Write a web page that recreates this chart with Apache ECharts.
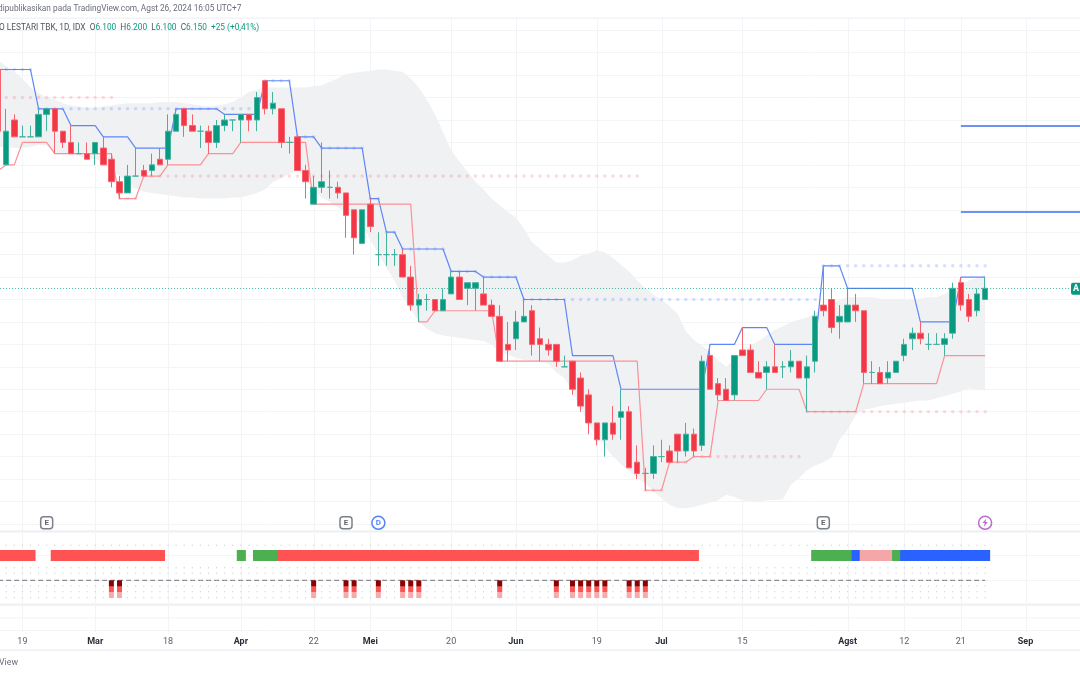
<!DOCTYPE html>
<html>
<head>
<meta charset="utf-8">
<style>html,body{margin:0;padding:0;background:#fff;overflow:hidden}#c{width:1080px;height:675px}</style>
<script src="https://cdn.jsdelivr.net/npm/echarts@6/dist/echarts.min.js"></script>
</head>
<body>
<div id="c"></div>
<script>
const dates = ['02-13','02-15','02-16','02-19','02-20','02-21','02-22','02-23','02-26','02-27','02-28','02-29','03-01','03-04','03-05','03-06','03-07','03-08','03-13','03-14','03-15','03-18','03-19','03-20','03-21','03-22','03-25','03-26','03-27','03-28','04-01','04-02','04-03','04-04','04-05','04-16','04-17','04-18','04-19','04-22','04-23','04-24','04-25','04-26','04-29','04-30','05-02','05-03','05-06','05-07','05-08','05-13','05-14','05-15','05-16','05-17','05-20','05-21','05-22','05-27','05-28','05-29','05-30','05-31','06-03','06-04','06-05','06-06','06-07','06-10','06-11','06-12','06-13','06-14','06-19','06-20','06-21','06-24','06-25','06-26','06-27','06-28','07-01','07-02','07-03','07-04','07-05','07-08','07-09','07-10','07-11','07-12','07-15','07-16','07-17','07-18','07-19','07-22','07-23','07-24','07-25','07-26','07-29','07-30','07-31','08-01','08-02','08-05','08-06','08-07','08-08','08-09','08-12','08-13','08-14','08-15','08-16','08-19','08-20','08-21','08-22','08-23','08-26','08-27','08-28','08-29','08-30','09-02','09-03','09-04','09-05','09-06','09-09','09-10','09-11'];
const tickLabels = {'02-19':'19','03-01':'Mar','03-18':'18','04-01':'Apr','04-22':'22','05-02':'Mei','05-20':'20','06-03':'Jun','06-19':'19','07-01':'Jul','07-15':'15','08-01':'Agst','08-12':'12','08-21':'21','09-02':'Sep'};
const monthTicks = ['Mar','Apr','Mei','Jun','Jul','Agst','Sep'];

const opens  = [7125,6700,6900,6825,6825,6825,6925,6950,6850,6800,6750,6750,6750,6775,6725,6625,6575,6650,6675,6675,6725,6725,6850,6950,6875,6850,6850,6800,6875,6900,6900,6925,6900,7075,6950,6950,6800,6825,6675,6525,6600,6600,6600,6575,6500,6350,6525,6300,6300,6300,6300,6200,6075,6100,6100,6050,6125,6200,6150,6150,6125,6075,6025,5900,5925,6000,6050,5925,5900,5900,5800,5825,5750,5675,5550,5475,5550,5575,5600,5375,5325,5325,5400,5425,5500,5425,5500,5450,5850,5725,5700,5675,5875,5875,5775,5775,5800,5800,5800,5825,5750,5825,6075,6100,6000,6000,6075,6050,5775,5775,5750,5775,5850,5925,5950,5900,5900,5900,5950,6175,6100,6050,6100];
const closes = [6850,6850,6825,6825,6825,6925,6950,6850,6800,6750,6750,6725,6800,6700,6625,6575,6650,6650,6650,6700,6700,6850,6925,6875,6850,6850,6800,6875,6900,6900,6925,6900,7000,6950,6975,6800,6800,6675,6625,6600,6625,6600,6575,6475,6375,6500,6425,6300,6300,6300,6200,6075,6100,6100,6050,6100,6200,6100,6175,6175,6075,6025,5825,5875,6000,6025,5900,5900,5875,5825,5800,5700,5625,5550,5475,5550,5500,5600,5350,5325,5325,5400,5400,5375,5425,5500,5425,5825,5700,5675,5650,5850,5850,5775,5750,5800,5775,5800,5825,5750,5800,6025,6050,5975,6025,6075,6050,5775,5775,5725,5775,5825,5900,5950,5925,5900,5900,5925,6150,6075,6025,6125,6150];
const lows   = [6850,6700,6825,6825,6825,6825,6850,6750,6775,6750,6750,6725,6700,6700,6600,6550,6575,6650,6650,6650,6700,6700,6850,6825,6850,6775,6750,6775,6850,6850,6800,6850,6850,6925,6925,6775,6750,6675,6550,6525,6575,6550,6550,6375,6300,6350,6400,6250,6250,6250,6200,6050,6000,6050,6050,6050,6125,6100,6075,6050,6075,6025,5825,5825,5875,6000,5850,5825,5850,5800,5800,5675,5600,5500,5450,5400,5475,5475,5350,5300,5250,5300,5375,5375,5375,5400,5400,5425,5700,5650,5650,5650,5850,5775,5750,5700,5775,5750,5775,5750,5600,5775,6025,5950,5925,6000,6000,5725,5725,5725,5725,5775,5825,5875,5900,5875,5900,5850,5925,6050,6000,6025,6100];
const highs  = [7125,6950,6925,6875,6875,6950,6950,6950,6850,6875,6800,6800,6800,6825,6750,6650,6700,6775,6700,6750,6775,6925,6950,6950,6925,6875,6875,6900,6925,6900,6925,6925,7025,7075,7025,6950,6825,6825,6700,6650,6800,6675,6625,6575,6500,6500,6550,6400,6400,6325,6325,6250,6125,6125,6100,6150,6225,6225,6175,6175,6200,6100,6075,6000,6050,6100,6075,5975,5925,5900,5850,5825,5775,5700,5550,5550,5625,5700,5625,5450,5350,5450,5475,5450,5500,5550,5525,5850,5900,5750,5750,5850,5975,5900,5825,5825,5900,5825,5875,5825,5850,6050,6250,6150,6075,6150,6125,6050,5825,5800,5825,5825,5925,5975,6000,5950,5950,5950,6175,6200,6125,6150,6200];

const upperLine = [7125,7125,7125,7125,7125,6950,6950,6950,6950,6875,6875,6875,6875,6825,6825,6825,6825,6775,6775,6775,6775,6775,6950,6950,6950,6950,6950,6950,6925,6925,6925,6925,6925,7075,7075,7075,7075,6825,6825,6825,6775,6775,6775,6775,6775,6775,6550,6550,6400,6400,6325,6325,6325,6325,6325,6325,6225,6225,6225,6225,6200,6200,6200,6200,6200,6100,6100,6100,6100,6100,6100,5850,5850,5850,5850,5850,5850,5700,5700,5700,5700,5700,5700,5700,5700,5700,5700,5700,5900,5900,5900,5900,5975,5975,5975,5975,5900,5900,5900,5900,5900,5900,6250,6250,6250,6150,6150,6150,6150,6150,6150,6150,6150,6150,6000,6000,6000,6000,6000,6200,6200,6200,6200];
const lowerLine = [6675,6700,6700,6800,6800,6800,6800,6750,6750,6750,6750,6750,6750,6750,6750,6550,6550,6550,6650,6650,6650,6700,6700,6700,6700,6700,6750,6750,6750,6750,6800,6800,6800,6800,6800,6800,6800,6800,6800,6525,6525,6525,6525,6525,6525,6525,6525,6525,6525,6525,6525,6525,6000,6000,6050,6050,6050,6050,6050,6050,6050,6050,5825,5825,5825,5825,5825,5825,5825,5825,5825,5825,5825,5825,5825,5825,5825,5825,5825,5825,5250,5250,5250,5375,5375,5375,5400,5400,5400,5650,5650,5650,5650,5650,5650,5700,5700,5700,5700,5700,5600,5600,5600,5600,5600,5600,5600,5725,5725,5725,5725,5725,5725,5725,5725,5725,5725,5850,5850,5850,5850,5850,5850];
const resistDots = [7125,7125,7125,7125,7125,6950,6950,6950,6950,6950,6950,6950,6950,6950,6950,6950,6950,6950,6950,6950,6950,6950,6950,6950,6950,6950,6950,6950,6950,6950,6950,6950,6950,7075,7075,7075,7075,6825,6825,6825,6775,6775,6775,6775,6775,6775,6550,6550,6400,6400,6325,6325,6325,6325,6325,6325,6225,6225,6225,6225,6200,6200,6200,6200,6200,6100,6100,6100,6100,6100,6100,6100,6100,6100,6100,6100,6100,6100,6100,6100,6100,6100,6100,6100,6100,6100,6100,6100,6100,6100,6100,6100,6100,6100,6100,6100,6100,6100,6100,6100,6100,6100,6250,6250,6250,6250,6250,6250,6250,6250,6250,6250,6250,6250,6250,6250,6250,6250,6250,6250,6250,6250,6250];
const supportDots = [null,7000,7000,7000,7000,7000,7000,7000,7000,7000,7000,7000,7000,7000,7000,6550,6550,6550,6650,6650,6650,6650,6650,6650,6650,6650,6650,6650,6650,6650,6650,6650,6650,6650,6650,6650,6650,6650,6650,6650,6650,6650,6650,6650,6650,6650,6650,6650,6650,6650,6650,6650,6650,6650,6650,6650,6650,6650,6650,6650,6650,6650,6650,6650,6650,6650,6650,6650,6650,6650,6650,6650,6650,6650,6650,6650,6650,6650,6650,6650,5250,5250,5250,5375,5375,5375,5400,5400,5400,5400,5400,5400,5400,5400,5400,5400,5400,5400,5400,5400,5600,5600,5600,5600,5600,5600,5600,5600,5600,5600,5600,5600,5600,5600,5600,5600,5600,5600,5600,5600,5600,5600,5600];

const bandUpper = [7165,7140,7115,7085,7045,7020,7000,6990,6975,6965,6960,6955,6955,6960,6965,6970,6975,6975,6975,6975,6980,6980,6980,6975,6970,6965,6960,6965,6970,6980,7000,7025,7035,7045,7045,7045,7045,7045,7045,7050,7055,7070,7085,7105,7110,7115,7120,7125,7125,7120,7115,7085,7045,6990,6925,6845,6765,6715,6670,6625,6590,6550,6520,6490,6465,6415,6355,6325,6295,6265,6265,6275,6295,6305,6320,6310,6285,6255,6225,6185,6150,6120,6100,6070,6035,5960,5920,5895,5865,5830,5800,5835,5870,5895,5915,5940,5965,5980,6000,6010,6020,6040,6060,6075,6100,6110,6110,6110,6110,6105,6100,6100,6100,6100,6105,6110,6110,6125,6145,6170,6185,6195,6210];
const bandLower = [6780,6780,6775,6775,6780,6790,6785,6755,6750,6745,6740,6730,6725,6715,6675,6650,6620,6595,6580,6575,6570,6565,6560,6555,6555,6550,6550,6550,6550,6555,6555,6565,6575,6590,6625,6640,6660,6675,6640,6590,6555,6535,6510,6485,6460,6435,6365,6305,6240,6185,6110,6055,6000,5970,5950,5940,5935,5930,5925,5920,5915,5900,5865,5855,5840,5830,5825,5820,5815,5775,5750,5690,5620,5540,5495,5445,5400,5365,5335,5305,5280,5245,5215,5185,5170,5170,5175,5185,5195,5205,5230,5220,5205,5200,5200,5205,5205,5210,5275,5305,5340,5360,5375,5395,5475,5520,5585,5610,5615,5625,5630,5635,5640,5645,5650,5650,5660,5670,5680,5690,5705,5700,5695];

const lastPrice = 6150;
const levelLines = [6875, 6490];
const levelFrom = 119, levelTo = 134;
const eventMarks = [[6,'E'],[43,'E'],[47,'D'],[102,'E'],[122,'']];
const boltBars = [122];
const eventLevel = 5105;

// state per bar in the lower pane: 0 none, 1 red, 2 green, 3 blue, 4 pink
const states = [1,1,1,1,1,0,0,1,1,1,1,1,1,1,1,1,1,1,1,1,1,0,0,0,0,0,0,0,0,0,2,0,2,2,2,1,1,1,1,1,1,1,1,1,1,1,1,1,1,1,1,1,1,1,1,1,1,1,1,1,1,1,1,1,1,1,1,1,1,1,1,1,1,1,1,1,1,1,1,1,1,1,1,1,1,1,1,0,0,0,0,0,0,0,0,0,0,0,0,0,0,2,2,2,2,2,3,4,4,4,4,2,3,3,3,3,3,3,3,3,3,3,3];
const stateColors = ['', '#ff5252', '#4caf50', '#2962ff', '#f5a6a6'];
const alertBars = [14,15,39,43,44,47,50,51,52,62,69,71,72,73,74,75,78,79,80];
const alertDark = -6.4, alertMid = -5.3, alertPale = -6;
const stateBarLow = 19.3, stateBarHigh = 30.3;
const dotLevels = [35, 12.6, 7, -5.7, -11.4, -17.4];

const GREEN = '#089981', RED = '#f23645';
const GREEN_WICK = '#45b29e', RED_WICK = '#f6636f';
const tickIdx = dates.map((d, i) => tickLabels[d] ? i : -1).filter(i => i >= 0);
const nBars = opens.length;
const FONT = 'Roboto, sans-serif';

const chart = echarts.init(document.getElementById('c'), null, {renderer: 'canvas'});
const scatterOf = (arr) => arr.map((v, i) => v == null ? null : [i, v]).filter(Boolean);

const paneDots = [];
dotLevels.forEach(l => { for (let i = 0; i < nBars; i++) paneDots.push([i, l]); });

chart.setOption({
  animation: false,
  backgroundColor: '#ffffff',
  grid: [
    {left: -5.915, width: 1092.15, top: 30.24, height: 493.66, outerBoundsMode: 'none'},
    {left: -5.915, width: 1092.15, top: 530.3, height: 100, outerBoundsMode: 'none'}
  ],
  xAxis: [
    {type: 'category', gridIndex: 0, data: dates, boundaryGap: true,
      axisLine: {show: false}, axisTick: {show: false}, axisLabel: {show: false}, splitLine: {show: false}},
    {type: 'category', gridIndex: 1, data: dates, boundaryGap: true,
      axisLine: {show: false}, axisTick: {show: false}, splitLine: {show: false},
      axisLabel: {
        interval: (i, v) => !!tickLabels[v], margin: 7, hideOverlap: false,
        formatter: v => { const t = tickLabels[v] || ''; return monthTicks.includes(t) ? '{m|' + t + '}' : '{d|' + t + '}'; },
        rich: {
          m: {fontFamily: FONT, fontSize: 9, fontWeight: 'bold', color: '#2a2e39'},
          d: {fontFamily: FONT, fontSize: 9, color: '#5d606b'}
        }
      }}
  ],
  yAxis: [
    {type: 'value', gridIndex: 0, min: 5100, max: 7300, interval: 100, scale: true,
      axisLine: {show: false}, axisTick: {show: false}, axisLabel: {show: false},
      splitLine: {lineStyle: {color: '#f3f4f6', width: 1}}},
    {type: 'value', gridIndex: 1, min: -50, max: 50, interval: 25,
      axisLine: {show: false}, axisTick: {show: false}, axisLabel: {show: false},
      splitLine: {lineStyle: {color: '#f3f4f6', width: 1}}}
  ],
  series: [
    {type: 'custom', name: 'timeGrid', z: 1, silent: true, clip: false,
      data: tickIdx.map(i => [i, 6000]),
      renderItem: (p, api) => {
        const x = Math.round(api.coord([api.value(0), api.value(1)])[0]) + 0.5;
        return {type: 'line', shape: {x1: x, y1: 18, x2: x, y2: 632}, style: {stroke: '#f3f4f6', lineWidth: 1}};
      }},
    {type: 'custom', name: 'band', z: 2, silent: true, clip: true,
      data: [[0, 0]],
      renderItem: (p, api) => {
        const pts = [];
        bandUpper.forEach((v, i) => pts.push(api.coord([i, v])));
        for (let i = bandLower.length - 1; i >= 0; i--) pts.push(api.coord([i, bandLower[i]]));
        return {type: 'polygon', shape: {points: pts}, style: {fill: '#f0f1f3'}};
      }},
    {type: 'scatter', name: 'resistDots', z: 3, silent: true, symbol: 'circle', symbolSize: 3.6,
      itemStyle: {color: 'rgba(41,98,255,0.24)'}, data: scatterOf(resistDots)},
    {type: 'scatter', name: 'supportDots', z: 3, silent: true, symbol: 'circle', symbolSize: 3.6,
      itemStyle: {color: 'rgba(242,54,69,0.22)'}, data: scatterOf(supportDots)},
    {type: 'line', name: 'upper', z: 4, silent: true, showSymbol: false, symbol: 'none',
      lineStyle: {color: '#5f86f7', width: 1.2}, data: upperLine},
    {type: 'line', name: 'lower', z: 4, silent: true, showSymbol: false, symbol: 'none',
      lineStyle: {color: '#fb9096', width: 1.2}, data: lowerLine},
    {type: 'candlestick', name: 'price', z: 5, silent: true, barWidth: 6,
      itemStyle: {color: GREEN, color0: RED, borderColor: GREEN_WICK, borderColor0: RED_WICK, borderColorDoji: GREEN_WICK, borderWidth: 1},
      data: opens.map((o, i) => [o, closes[i], lows[i], highs[i]]),
      markLine: {
        silent: true, symbol: 'none', animation: false, label: {show: false},
        data: [
          {yAxis: lastPrice, lineStyle: {color: GREEN, type: [1, 2], width: 1, opacity: 0.75}},
          ...levelLines.map(v => [
            {coord: [levelFrom, v], lineStyle: {color: '#3d6cf5', type: 'solid', width: 1.6}},
            {coord: [levelTo, v]}
          ])
        ]
      }},
    {type: 'scatter', name: 'events', z: 6, silent: true,
      data: eventMarks.map(e => ({
        value: [e[0], eventLevel],
        symbol: e[1] === 'E' ? 'roundRect' : 'circle',
        symbolSize: e[1] === 'E' ? 12 : 13,
        itemStyle: {color: '#fff', borderWidth: 1.5, borderColor: e[1] === 'E' ? '#5d606b' : (e[1] === 'D' ? '#2962ff' : '#ab47bc')},
        label: {show: !!e[1], position: 'inside', formatter: e[1], fontFamily: FONT, fontSize: 8, fontWeight: 'bold',
          color: e[1] === 'E' ? '#3a3d46' : '#2962ff'}
      }))},
    {type: 'scatter', name: 'bolts', z: 7, silent: true,
      symbol: 'path://M6 0 L0 7 L3.6 7 L2 13 L8 5.5 L4.4 5.5 Z', symbolSize: [5.5, 8.5],
      itemStyle: {color: '#ab47bc'}, data: boltBars.map(i => [i, eventLevel])},
    {type: 'scatter', name: 'paneDots', xAxisIndex: 1, yAxisIndex: 1, z: 2, silent: true, symbol: 'rect', symbolSize: 1,
      itemStyle: {color: '#b4b7bd'}, data: paneDots},
    {type: 'custom', name: 'state', xAxisIndex: 1, yAxisIndex: 1, z: 4, silent: true,
      data: states.map((s, i) => [i, s]).filter(d => d[1] > 0),
      renderItem: (p, api) => {
        const i = api.value(0), s = api.value(1);
        const a = api.coord([i, stateBarHigh]), b = api.coord([i, stateBarLow]);
        const w = api.size([1, 0])[0];
        return {type: 'rect', shape: {x: a[0] - w / 2, y: a[1], width: w + 1, height: b[1] - a[1]}, style: {fill: stateColors[s]}};
      }},
    {type: 'line', name: 'zero', xAxisIndex: 1, yAxisIndex: 1, z: 3, silent: true, symbol: 'none',
      lineStyle: {color: '#6f727a', width: 1, type: [5, 3]},
      data: states.map(() => 0)},
    {type: 'bar', name: 'alert1', xAxisIndex: 1, yAxisIndex: 1, stack: 'a', z: 4, silent: true, barWidth: 5,
      itemStyle: {color: '#8b0000'}, data: states.map((s, i) => alertBars.includes(i) ? alertDark : null)},
    {type: 'bar', name: 'alert2', xAxisIndex: 1, yAxisIndex: 1, stack: 'a', z: 4, silent: true, barWidth: 5,
      itemStyle: {color: '#ff5252'}, data: states.map((s, i) => alertBars.includes(i) ? alertMid : null)},
    {type: 'bar', name: 'alert3', xAxisIndex: 1, yAxisIndex: 1, stack: 'a', z: 4, silent: true, barWidth: 5,
      itemStyle: {color: '#f8a9a9'}, data: states.map((s, i) => alertBars.includes(i) ? alertPale : null)}
  ],
  graphic: [
    {type: 'rect', z: 20, shape: {x: 0, y: 0, width: 1080, height: 17}, style: {fill: '#fff'}},
    {type: 'rect', z: 20, shape: {x: 0, y: 17.5, width: 1080, height: 1.2}, style: {fill: '#eff1f5'}},
    {type: 'rect', z: 1, shape: {x: 0, y: 531, width: 1080, height: 1.6}, style: {fill: '#eef0f3'}},
    {type: 'rect', z: 1, shape: {x: 0, y: 603.6, width: 1080, height: 1.6}, style: {fill: '#eef0f3'}},
    {type: 'rect', z: 1, shape: {x: 0, y: 617.5, width: 1080, height: 1}, style: {fill: '#f3f4f6'}},
    {type: 'rect', z: 1, shape: {x: 0, y: 649.4, width: 1080, height: 1.6}, style: {fill: '#eef0f3'}},
    {type: 'text', z: 21, x: -2, y: 5, style: {text: 'dipublikasikan pada TradingView.com, Agst 26, 2024 16:05 UTC+7', fill: '#6a6d78', font: '8.3px Roboto, sans-serif'}},
    {type: 'text', z: 21, x: -1, y: 24, style: {
      text: '{g|O LESTARI TBK, 1D, IDX}  {g|O}{v|6.100}  {g|H}{v|6.200}  {g|L}{v|6.100}  {g|C}{v|6.150}  {v|+25 (+0,41%)}',
      font: '8.3px Roboto, sans-serif',
      rich: {g: {fill: '#50535e', font: '8.3px Roboto, sans-serif'}, v: {fill: GREEN, font: '8.3px Roboto, sans-serif'}}
    }},
    {type: 'text', z: 21, x: -1, y: 658, style: {text: 'View', fill: '#6a6d78', font: '8.8px Roboto, sans-serif'}},
    {type: 'rect', z: 21, shape: {x: 1071, y: 282.7, width: 15, height: 12, r: 2}, style: {fill: GREEN}},
    {type: 'text', z: 22, x: 1073, y: 284, style: {text: 'A', fill: '#fff', font: 'bold 9px Roboto, sans-serif'}}
  ]
});
</script>
</body>
</html>
